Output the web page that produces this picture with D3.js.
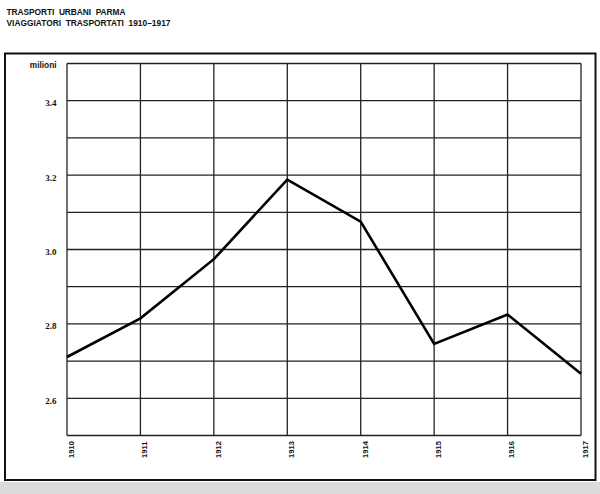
<!DOCTYPE html>
<html>
<head>
<meta charset="utf-8">
<script src="https://cdn.jsdelivr.net/npm/d3@7/dist/d3.min.js"></script>
<style>
  html, body { margin: 0; padding: 0; background: #fff; }
  svg { display: block; }
</style>
</head>
<body>
<svg id="chart" width="600" height="494"></svg>
<script>
const years = [1910, 1911, 1912, 1913, 1914, 1915, 1916, 1917];
const passengers = [2.711, 2.815, 2.974, 3.188, 3.075, 2.746, 2.825, 2.666];
const yTickLabels = [2.6, 2.8, 3.0, 3.2, 3.4];
const yGridValues = [2.5, 2.6, 2.7, 2.8, 2.9, 3.0, 3.1, 3.2, 3.3, 3.4, 3.5];
const titleLines = ["TRASPORTI  URBANI  PARMA", "VIAGGIATORI  TRASPORTATI  1910–1917"];
const unitLabel = "milioni";

const svg = d3.select("#chart");

// scan shadow band at bottom
svg.append("rect").attr("x", 0).attr("y", 482).attr("width", 600).attr("height", 12)
  .attr("fill", "#dcdcdc");

// outer frame
svg.append("rect").attr("x", 5).attr("y", 53.5).attr("width", 590.5).attr("height", 426.5)
  .attr("fill", "none").attr("stroke", "#111").attr("stroke-width", 2);

// title
const titleWidths = [119, 164];
titleLines.forEach((t, i) => {
  svg.append("text")
    .attr("x", 6.5).attr("y", 14.5 + i * 11)
    .attr("font-family", "'Liberation Sans', sans-serif")
    .attr("font-weight", "bold")
    .attr("font-size", 8.4)
    .attr("fill", "#111")
    .attr("xml:space", "preserve")
    .style("white-space", "pre")
    .attr("textLength", titleWidths[i])
    .attr("lengthAdjust", "spacing")
    .text(t);
});

const x = d3.scaleLinear().domain([1910, 1917]).range([67, 581]);
const y = d3.scaleLinear().domain([2.5, 3.5]).range([435.5, 63.5]);

const g = svg.append("g");

// horizontal grid
g.selectAll("line.h").data(yGridValues).join("line")
  .attr("class", "h")
  .attr("x1", x(1910)).attr("x2", x(1917))
  .attr("y1", d => y(d)).attr("y2", d => y(d))
  .attr("stroke", "#222").attr("stroke-width", 1.3);

// vertical grid
g.selectAll("line.v").data(years).join("line")
  .attr("class", "v")
  .attr("x1", d => x(d)).attr("x2", d => x(d))
  .attr("y1", y(3.5)).attr("y2", y(2.5))
  .attr("stroke", "#222").attr("stroke-width", 1.3);

// y tick labels
g.selectAll("text.yl").data(yTickLabels).join("text")
  .attr("class", "yl")
  .attr("x", 56.5).attr("y", d => y(d) + 5.5)
  .attr("text-anchor", "end")
  .attr("font-family", "'Liberation Serif', serif")
  .attr("font-weight", "bold")
  .attr("font-size", 9)
  .attr("fill", "#111")
  .text(d => d.toFixed(1));

// unit label
svg.append("text")
  .attr("x", 56.5).attr("y", y(3.5) + 4)
  .attr("text-anchor", "end")
  .attr("font-family", "'Liberation Sans', sans-serif")
  .attr("font-weight", "bold")
  .attr("font-size", 8.3)
  .attr("fill", "#111")
  .text(unitLabel);

// x labels (rotated)
g.selectAll("text.xl").data(years).join("text")
  .attr("class", "xl")
  .attr("transform", d => `translate(${x(d) + 6.8},458) rotate(-90)`)
  .attr("text-anchor", "start")
  .attr("font-family", "'Liberation Sans', sans-serif")
  .attr("font-weight", "bold")
  .attr("font-size", 7.6)
  .attr("fill", "#111")
  .text(d => d);

// data line
const line = d3.line().x((d, i) => x(years[i])).y(d => y(d));
g.append("path").datum(passengers)
  .attr("d", line)
  .attr("fill", "none")
  .attr("stroke", "#000")
  .attr("stroke-width", 2.6)
  .attr("stroke-linejoin", "miter");
</script>
</body>
</html>
